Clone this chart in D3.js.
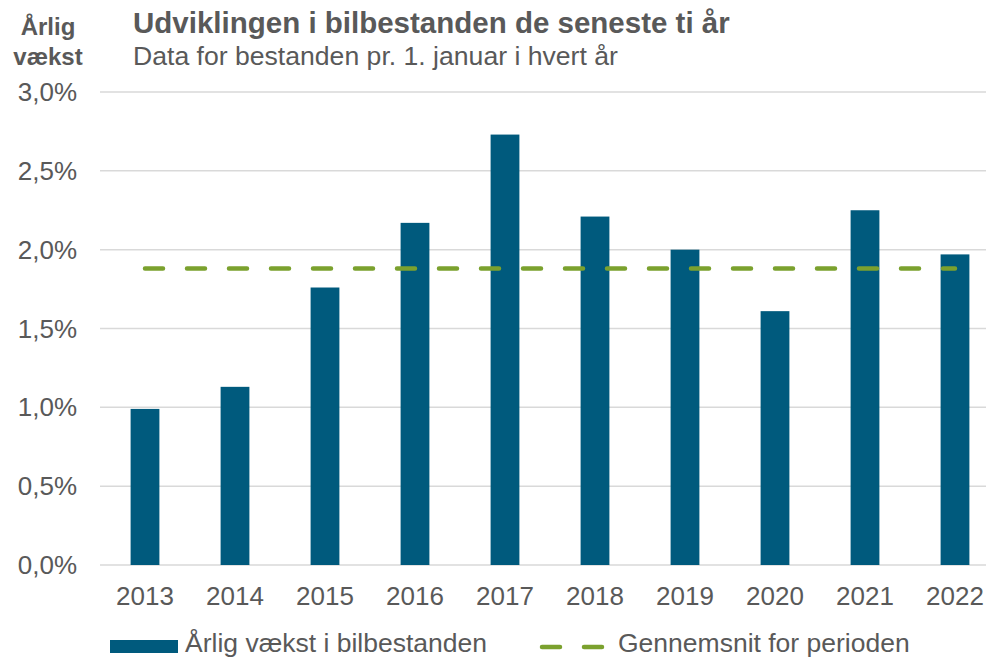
<!DOCTYPE html>
<html>
<head>
<meta charset="utf-8">
<script src="https://cdn.jsdelivr.net/npm/d3@7"></script>
<style>
  html, body { margin: 0; padding: 0; background: #fff; }
  svg { display: block; font-family: "Liberation Sans", Arial, sans-serif; }
</style>
</head>
<body>
<div id="chart"></div>
<script>
// Chart data
const years = ['2013', '2014', '2015', '2016', '2017', '2018', '2019', '2020', '2021', '2022'];
const growth = [0.99, 1.13, 1.76, 2.17, 2.73, 2.21, 2.00, 1.61, 2.25, 1.97];
const average = 1.88;
const yTicks = [0, 0.5, 1.0, 1.5, 2.0, 2.5, 3.0];

const W = 986, H = 659;
const margin = { top: 92, right: -14, bottom: 94, left: 100 };
const textColor = '#595959';
const barColor = '#005a7d';
const lineColor = '#7ba12e';

const svg = d3.select('#chart').append('svg')
    .attr('width', W)
    .attr('height', H);

const x = d3.scaleBand()
    .domain(years)
    .range([margin.left, W - margin.right])
    .paddingInner(0.68)
    .paddingOuter(0.34);

const y = d3.scaleLinear()
    .domain([0, 3])
    .range([H - margin.bottom, margin.top]);

const fmt = d => d3.format('.1f')(d).replace('.', ',') + '%';

// Gridlines
svg.append('g')
    .selectAll('line')
    .data(yTicks)
    .enter()
    .append('line')
    .attr('x1', margin.left)
    .attr('x2', W)
    .attr('y1', d => y(d))
    .attr('y2', d => y(d))
    .attr('stroke', '#d9d9d9')
    .attr('stroke-width', 1.5);

// Y labels
svg.append('g')
    .selectAll('text')
    .data(yTicks)
    .enter()
    .append('text')
    .attr('x', 77)
    .attr('y', d => y(d))
    .attr('dy', '0.35em')
    .attr('text-anchor', 'end')
    .attr('fill', textColor)
    .style('font-size', '26px')
    .text(fmt);

// Bars
svg.append('g')
    .selectAll('rect')
    .data(growth)
    .enter()
    .append('rect')
    .attr('x', (d, i) => x(years[i]))
    .attr('y', d => y(d))
    .attr('width', x.bandwidth())
    .attr('height', d => y(0) - y(d))
    .attr('fill', barColor);

// Average line
svg.append('line')
    .attr('x1', x(years[0]) + x.bandwidth() / 2)
    .attr('x2', x(years[years.length - 1]) + x.bandwidth() / 2)
    .attr('y1', y(average))
    .attr('y2', y(average))
    .attr('stroke', lineColor)
    .attr('stroke-width', 4.5)
    .attr('stroke-linecap', 'round')
    .attr('stroke-dasharray', '18,24');

// X labels
svg.append('g')
    .selectAll('text')
    .data(years)
    .enter()
    .append('text')
    .attr('x', d => x(d) + x.bandwidth() / 2)
    .attr('y', 605)
    .attr('text-anchor', 'middle')
    .attr('fill', textColor)
    .style('font-size', '26px')
    .text(d => d);

// Titles
svg.append('text')
    .attr('x', 133).attr('y', 33)
    .attr('fill', textColor)
    .style('font-size', '29.5px')
    .style('font-weight', 'bold')
    .text('Udviklingen i bilbestanden de seneste ti år');

svg.append('text')
    .attr('x', 133).attr('y', 65)
    .attr('fill', textColor)
    .style('font-size', '26.6px')
    .text('Data for bestanden pr. 1. januar i hvert år');

const yTitle = svg.append('text')
    .attr('text-anchor', 'middle')
    .attr('fill', textColor)
    .style('font-size', '24px')
    .style('font-weight', 'bold');
yTitle.append('tspan').attr('x', 48).attr('y', 35).text('Årlig');
yTitle.append('tspan').attr('x', 48).attr('y', 65).text('vækst');

// Legend
const legend = svg.append('g');
legend.append('rect')
    .attr('x', 110).attr('y', 640)
    .attr('width', 68).attr('height', 13)
    .attr('fill', barColor);
legend.append('text')
    .attr('x', 185).attr('y', 652)
    .attr('fill', textColor)
    .style('font-size', '26.5px')
    .text('Årlig vækst i bilbestanden');
legend.append('line')
    .attr('x1', 542).attr('x2', 603)
    .attr('y1', 647).attr('y2', 647)
    .attr('stroke', lineColor)
    .attr('stroke-width', 4.5)
    .attr('stroke-linecap', 'round')
    .attr('stroke-dasharray', '18,24');
legend.append('text')
    .attr('x', 618).attr('y', 652)
    .attr('fill', textColor)
    .style('font-size', '26.5px')
    .text('Gennemsnit for perioden');
</script>
</body>
</html>
